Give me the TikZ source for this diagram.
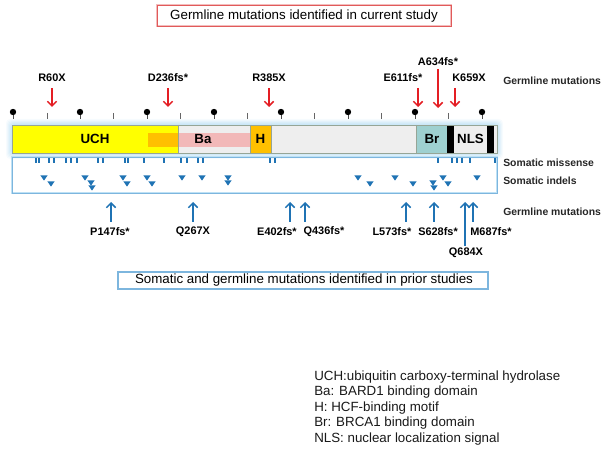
\documentclass[tikz,border=0pt]{standalone}
\usepackage{fontspec}
\setmainfont{Liberation Sans}
\usetikzlibrary{arrows.meta}
\definecolor{mutred}{RGB}{228,30,36}
\definecolor{mutblue}{RGB}{31,115,180}
\definecolor{uchyel}{RGB}{255,255,0}
\definecolor{hor}{RGB}{255,192,0}
\definecolor{bapink}{RGB}{242,184,184}
\definecolor{bggray}{RGB}{238,238,238}
\definecolor{brteal}{RGB}{158,208,208}
\definecolor{boxblue}{RGB}{125,182,222}
\definecolor{glowblue}{RGB}{190,225,245}
\definecolor{edgegray}{RGB}{150,165,150}
\definecolor{boxred}{RGB}{225,90,90}
\tikzset{
  mutlab/.style={font=\fontsize{8.2}{10}\selectfont\bfseries, inner sep=0pt},
  sidelab/.style={font=\fontsize{7.8}{10}\selectfont\bfseries, inner sep=0pt, anchor=west, text=black!85},
  domlab/.style={font=\fontsize{10}{12}\selectfont\bfseries, inner sep=0pt},
  redarrow/.style={draw=mutred, line width=1.1pt, -{Straight Barb[length=3.5pt,width=7pt]}},
  bluearrow/.style={draw=mutblue, line width=1.1pt, -{Straight Barb[length=3.5pt,width=7pt]}},
  titlebox/.style={font=\fontsize{10}{12}\selectfont, inner sep=0pt},
}
\begin{document}
\begin{tikzpicture}[x=0.75pt,y=-0.75pt]
\useasboundingbox (0,0) rectangle (603,452);

% top red box
\draw[boxred!40, line width=2.2pt] (157,5) rectangle (451,26);
\draw[boxred, line width=0.7pt] (157,5) rectangle (451,26);
\node[titlebox] (topbox) at (304,16) {Germline mutations identified in current study};

% glow around the bar
\foreach \d/\o in {6/0.12,5/0.15,4/0.2,3/0.25,2/0.3,1/0.35}{
  \fill[glowblue, opacity=\o, rounded corners=3pt] (12-\d,125-\d) rectangle (497+\d,153+\d);
}

% bar segments
\fill[uchyel] (12,125) rectangle (178,153);
\fill[hor] (148,133) rectangle (178,147);
\fill[bggray] (178,125) rectangle (250,153);
\fill[bapink] (178,133) rectangle (250,147);
\fill[hor] (250,125) rectangle (271,153);
\fill[bggray] (271,125) rectangle (416,153);
\fill[brteal] (416,125) rectangle (447,153);
\fill[black] (447,125) rectangle (454,153);
\fill[bggray] (454,125) rectangle (487,153);
\fill[black] (487,125) rectangle (494,153);
\fill[bggray] (494,125) rectangle (497,153);
\draw[edgegray, line width=0.5pt] (12,125) rectangle (497,153);
\foreach \x in {178,250,271,416}{ \draw[edgegray, line width=0.5pt] (\x,125) -- (\x,153); }

\node[domlab] (uch) at (95,139) {UCH};
\node[domlab] (ba) at (203,139) {Ba};
\node[domlab] (h) at (260.5,139) {H};
\node[domlab] (br) at (432,139) {Br};
\node[domlab] (nls) at (470.5,139) {NLS};

% scale: pins and ticks
\foreach \x in {13,80,147,214,281,348,415,482}{
  \draw[black!70, line width=0.6pt] (\x,112) -- (\x,119);
  \fill[black] (\x,112) circle (2.4pt);
}
\foreach \x in {47,113,180,247,314,381,448}{
  \draw[black!60, line width=0.6pt] (\x,113) -- (\x,119);
}

% somatic box
\draw[glowblue, line width=2pt] (12,157) rectangle (497,193);
\draw[boxblue, line width=0.7pt] (12,157) rectangle (497,193);

% missense ticks
\foreach \x in {36,39,49,54,66,71,77,98,103,125,128,144,164,181,187,198,203,270,275,438,452,457,462,470,495}{
  \draw[mutblue, line width=1pt] (\x,158) -- (\x,163.5);
}
% indel triangles
\foreach \x/\y in {44/178,51/184,85/178,91/183,92/188,123/178,127/184,147/178,152/184,182/178,202/178,228/178,228/183,358/178,370/184,395/178,413/184,433/183,434/188,443/178,448/184,477/178}{
  \fill[mutblue] (\x-3.6,\y-2.6) -- (\x+3.6,\y-2.6) -- (\x,\y+2.6) -- cycle;
}

% side labels
\node[sidelab] (glab1) at (503,81) {Germline mutations};
\node[sidelab] (smis) at (503,163) {Somatic missense};
\node[sidelab] (sind) at (503,181) {Somatic indels};
\node[sidelab] (glab2) at (503,212) {Germline mutations};

% red germline arrows (current study)
\node[mutlab] (r60) at (52,78) {R60X};
\node[mutlab] (d236) at (168,78) {D236fs*};
\node[mutlab] (r385) at (269,78) {R385X};
\node[mutlab] (e611) at (403,78) {E611fs*};
\node[mutlab] (a634) at (438,62) {A634fs*};
\node[mutlab] (k659) at (469,78) {K659X};
\coordinate (r60a) at (52,88);   \coordinate (r60b) at (52,107);
\coordinate (d236a) at (168,88); \coordinate (d236b) at (168,107);
\coordinate (r385a) at (269,88); \coordinate (r385b) at (269,107);
\coordinate (e611a) at (418,88); \coordinate (e611b) at (418,107);
\coordinate (a634a) at (438,69); \coordinate (a634b) at (438,108);
\coordinate (k659a) at (455,88); \coordinate (k659b) at (455,107);
\foreach \m in {r60,d236,r385,e611,a634,k659}{ \draw[redarrow] (\m a) -- (\m b); }

% blue germline arrows (prior studies)
\node[mutlab] (p147) at (110,232) {P147fs*};
\node[mutlab] (q267) at (193,232) {Q267X};
\node[mutlab] (e402) at (277,232) {E402fs*};
\node[mutlab] (q436) at (324,232) {Q436fs*};
\node[mutlab] (l573) at (392,232) {L573fs*};
\node[mutlab] (s628) at (438,232) {S628fs*};
\node[mutlab] (q684) at (466,253) {Q684X};
\node[mutlab] (m687) at (491,232) {M687fs*};
\coordinate (p147a) at (111,222); \coordinate (p147b) at (111,202);
\coordinate (q267a) at (193,222); \coordinate (q267b) at (193,202);
\coordinate (e402a) at (290,222); \coordinate (e402b) at (290,202);
\coordinate (q436a) at (305,222); \coordinate (q436b) at (305,202);
\coordinate (l573a) at (406,222); \coordinate (l573b) at (406,202);
\coordinate (s628a) at (434,222); \coordinate (s628b) at (434,202);
\coordinate (q684a) at (465,246); \coordinate (q684b) at (465,202);
\coordinate (m687a) at (473,222); \coordinate (m687b) at (473,202);
\foreach \m in {p147,q267,e402,q436,l573,s628,q684,m687}{ \draw[bluearrow] (\m a) -- (\m b); }

% bottom blue box
\draw[glowblue, line width=2pt] (118,272) rectangle (488,289);
\draw[boxblue, line width=0.8pt] (118,272) rectangle (488,289);
\node[titlebox] (botbox) at (304,280.5) {Somatic and germline mutations identified in prior studies};

% legend
\node[font=\fontsize{10}{11.6}\selectfont, align=left, anchor=north west, inner sep=0pt, text=black!90] (legend) at (314,370.5)
{UCH:ubiquitin carboxy-terminal hydrolase\\
Ba: BARD1 binding domain\\
H: HCF-binding motif\\
Br: BRCA1 binding domain\\
NLS: nuclear localization signal};
\end{tikzpicture}
\end{document}
